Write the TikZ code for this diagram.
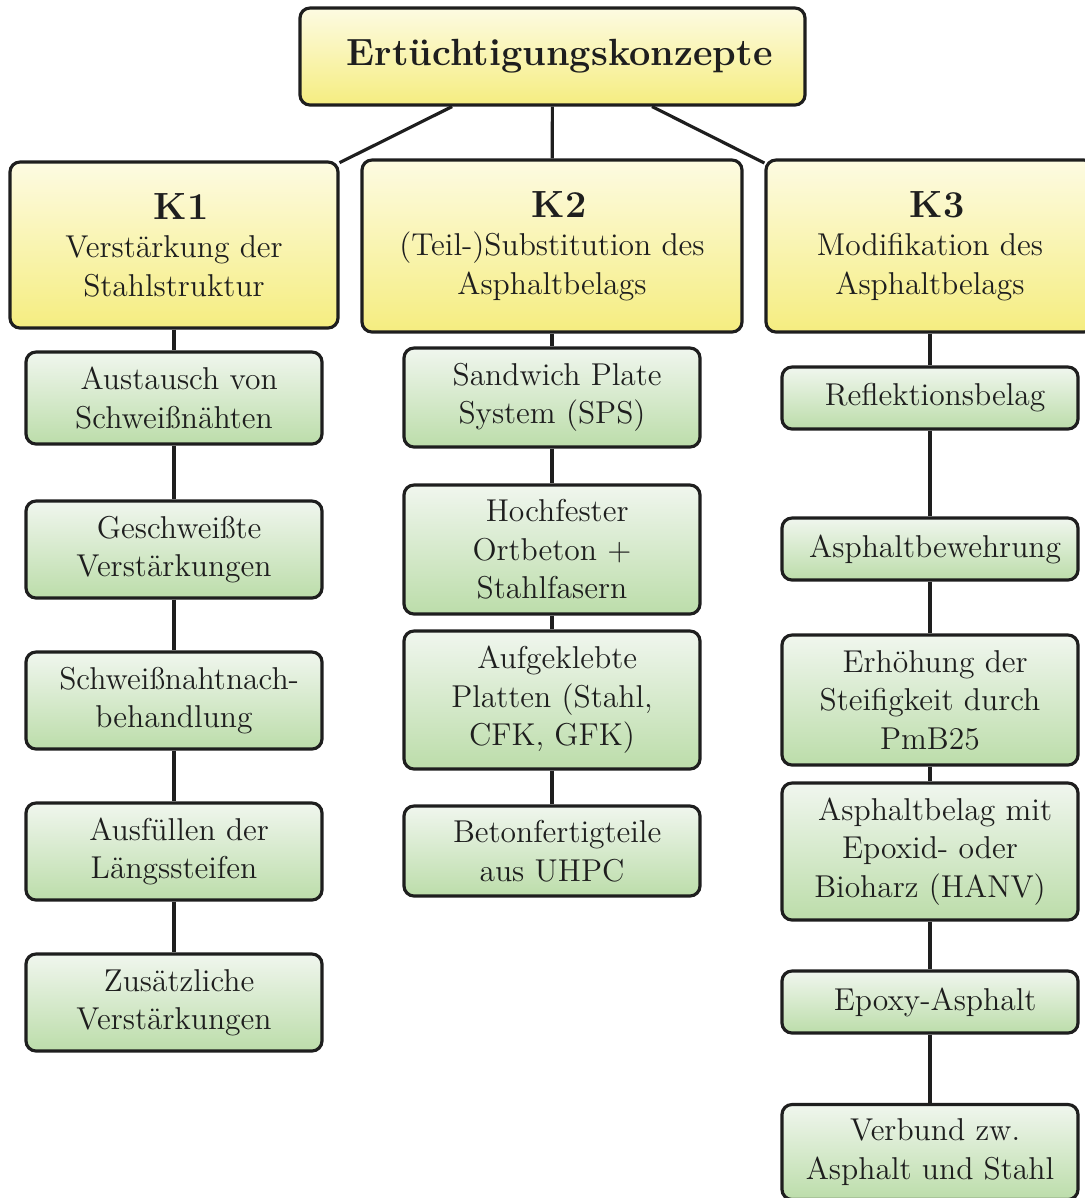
\documentclass[tikz,border=0pt]{standalone}
\usepackage{tikz}
\definecolor{ytop}{RGB}{253,251,226}
\definecolor{ybot}{RGB}{245,237,128}
\definecolor{gtop}{RGB}{240,246,238}
\definecolor{gbot}{RGB}{188,221,170}
\definecolor{ink}{RGB}{30,30,30}
\begin{document}
\begin{tikzpicture}[x=0.38pt,y=-0.38pt,
  box/.style={draw=ink, line width=1.2pt, rounded corners=3.8pt, align=center,
    text=ink, inner sep=0pt, font=\fontsize{12}{14.6}\selectfont},
  ww/.style={minimum width={#1*0.38pt}},
  hh/.style={minimum height={#1*0.38pt}},
  hbox/.style={box, top color=ytop, bottom color=ybot},
  gbox/.style={box, top color=gtop, bottom color=gbot, ww=296},
  link/.style={draw=ink, line width=1.2pt}]
\useasboundingbox (0,0) rectangle (1085,1198);

\node[hbox, ww=505, hh=97, font=\fontsize{14.4}{18}\selectfont\bfseries] (t) at (552.5,56.5) {~Ertüchtigungskonzepte};

\node[hbox, ww=328, hh=166] (k1) at (174,245) {{\fontsize{14.4}{16}\selectfont\bfseries ~K1}\\Verstärkung der\\Stahlstruktur};
\node[hbox, ww=380, hh=172] (k2) at (552,246) {{\fontsize{14.4}{16}\selectfont\bfseries ~K2}\\(Teil-)Substitution des\\Asphaltbelags};
\node[hbox, ww=328, hh=172] (k3) at (930,246) {{\fontsize{14.4}{16}\selectfont\bfseries ~K3}\\Modifikation des\\Asphaltbelags};

\node[gbox, hh=92] (a1) at (174,398) {~Austausch von\\Schweißnähten};
\node[gbox, hh=97] (a2) at (174,549.5) {~Geschweißte\\Verstärkungen};
\node[gbox, hh=97] (a3) at (174,700.5) {~Schweißnahtnach-\\behandlung};
\node[gbox, hh=97] (a4) at (174,851.5) {~Ausfüllen der\\Längssteifen};
\node[gbox, hh=97] (a5) at (174,1002.5) {~Zusätzliche\\Verstärkungen};

\node[gbox, hh=99] (b1) at (552,397.5) {~Sandwich Plate\\System (SPS)};
\node[gbox, hh=129] (b2) at (552,549.5) {~Hochfester\\Ortbeton +\\Stahlfasern};
\node[gbox, hh=138] (b3) at (552,700) {~Aufgeklebte\\Platten (Stahl,\\CFK, GFK)};
\node[gbox, hh=90] (b4) at (552,851) {~Betonfertigteile\\aus UHPC};

\node[gbox, hh=62] (c1) at (930,398) {~Reflektionsbelag};
\node[gbox, hh=62] (c2) at (930,549) {~Asphaltbewehrung};
\node[gbox, hh=130] (c3) at (930,700) {~Erhöhung der\\Steifigkeit durch\\PmB25};
\node[gbox, hh=137] (c4) at (930,851.5) {~Asphaltbelag mit\\Epoxid- oder\\Bioharz (HANV)};
\node[gbox, hh=62] (c5) at (930,1002) {~Epoxy-Asphalt};
\node[gbox, hh=95] (c6) at (930,1152) {~Verbund zw.\\Asphalt und Stahl};

\draw[link] (t) -- (k1);
\draw[link] (t) -- (k2);
\draw[link] (t) -- (k3);
\draw[link] (k1) -- (a1);
\draw[link] (a1) -- (a2);
\draw[link] (a2) -- (a3);
\draw[link] (a3) -- (a4);
\draw[link] (a4) -- (a5);
\draw[link] (k2) -- (b1);
\draw[link] (b1) -- (b2);
\draw[link] (b2) -- (b3);
\draw[link] (b3) -- (b4);
\draw[link] (k3) -- (c1);
\draw[link] (c1) -- (c2);
\draw[link] (c2) -- (c3);
\draw[link] (c3) -- (c4);
\draw[link] (c4) -- (c5);
\draw[link] (c5) -- (c6);
\end{tikzpicture}
\end{document}
